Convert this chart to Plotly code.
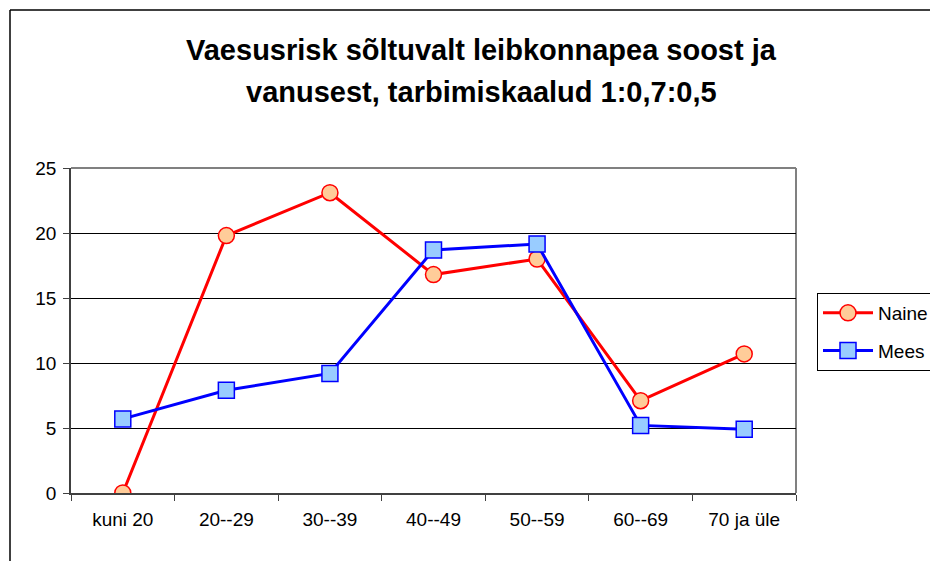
import plotly.graph_objects as go

categories = ["kuni 20", "20--29", "30--39", "40--49", "50--59", "60--69", "70 ja üle"]
naine = [0.0, 19.8, 23.1, 16.8, 18.0, 7.1, 10.7]
mees = [5.7, 7.9, 9.2, 18.7, 19.15, 5.2, 4.9]
y_ticks = [0, 5, 10, 15, 20, 25]

# page has an 8px body margin; work in figure coordinates = page - 8
OFF = 8
W, H = 938 - OFF, 561 - OFF
L, R, T, B = 71 - OFF, 796 - OFF, 168 - OFF, 493 - OFF

fig = go.Figure()
fig.add_trace(go.Scatter(
    x=categories, y=naine, name="Naine", mode="lines+markers", legendgroup="a",
    line=dict(color="#FF0000", width=3),
    marker=dict(symbol="circle", size=16, color="#FFCC99", line=dict(color="#FF0000", width=1.5)),
))
fig.add_trace(go.Scatter(
    x=categories, y=mees, name="Mees", mode="lines+markers", legendgroup="b",
    line=dict(color="#0000FF", width=3),
    marker=dict(symbol="square", size=16, color="#99CCFF", line=dict(color="#0000FF", width=1.5)),
))

font = "Liberation Sans, Arial, sans-serif"

def px(x):
    return (x - OFF - L) / (R - L)

def py(y):
    return (B - (y - OFF)) / (B - T)

fig.update_layout(
    width=W, height=H,
    margin=dict(l=L, r=W - R, t=T, b=H - B, pad=0, autoexpand=False),
    paper_bgcolor="white", plot_bgcolor="white",
    font=dict(family=font, size=19, color="black"),
    showlegend=True,
    legend=dict(
        x=px(817), y=py(293), xanchor="left", yanchor="top",
        bordercolor="black", borderwidth=1, bgcolor="white",
        font=dict(size=19, family=font),
        traceorder="grouped", tracegroupgap=10, itemwidth=50,
    ),
    xaxis=dict(
        type="category", range=[-0.5, 6.5],
        showgrid=False, showline=True, linecolor="#404040", linewidth=1.5,
        ticks="outside", ticklen=6, tickcolor="#404040", tickson="boundaries",
        tickfont=dict(size=19), zeroline=False, ticklabelstandoff=8,
    ),
    yaxis=dict(
        range=[0, 25], tickvals=y_ticks, ticktext=[str(v) for v in y_ticks],
        showgrid=True, gridcolor="black", gridwidth=1,
        showline=True, linecolor="#404040", linewidth=1.5,
        ticks="outside", ticklen=6, tickcolor="#404040",
        tickfont=dict(size=19), zeroline=False, ticklabelstandoff=3,
    ),
    annotations=[
        dict(text="<b>Vaesusrisk sõltuvalt leibkonnapea soost ja</b>", xref="paper", yref="paper",
             x=px(482), y=py(50), xanchor="center", yanchor="middle", showarrow=False,
             font=dict(size=29, family=font, color="black")),
        dict(text="<b>vanusest, tarbimiskaalud 1:0,7:0,5</b>", xref="paper", yref="paper",
             x=px(482), y=py(92), xanchor="center", yanchor="middle", showarrow=False,
             font=dict(size=29, family=font, color="black")),
    ],
    shapes=[
        dict(type="line", xref="paper", yref="paper", x0=0, x1=1, y0=1, y1=1,
             line=dict(color="#808080", width=2), layer="below"),
        dict(type="line", xref="paper", yref="paper", x0=1, x1=1, y0=0, y1=1,
             line=dict(color="#808080", width=2), layer="below"),
        dict(type="line", xref="paper", yref="paper", x0=px(10), x1=px(945), y0=py(10), y1=py(10),
             line=dict(color="black", width=1.5)),
        dict(type="line", xref="paper", yref="paper", x0=px(10), x1=px(10), y0=py(10), y1=py(570),
             line=dict(color="black", width=1.5)),
    ],
)

fig.write_html("out.html")
